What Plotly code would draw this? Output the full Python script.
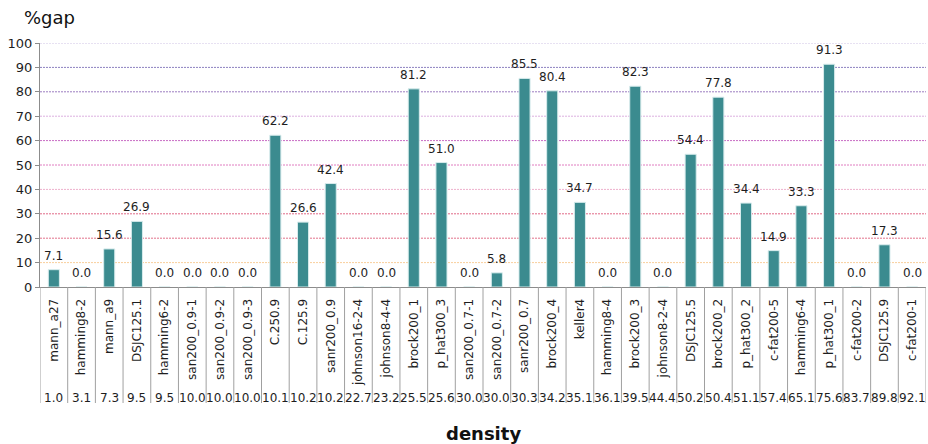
import plotly.graph_objects as go

# Instances, optimality gap (%) and graph density (%)
instances = [
    "mann_a27", "hamming8-2", "mann_a9", "DSJC125.1", "hamming6-2",
    "san200_0.9-1", "san200_0.9-2", "san200_0.9-3", "C.250.9", "C.125.9",
    "sanr200_0.9", "johnson16-2-4", "johnson8-4-4", "brock200_1", "p_hat300_3",
    "san200_0.7-1", "san200_0.7-2", "sanr200_0.7", "brock200_4", "keller4",
    "hamming8-4", "brock200_3", "johnson8-2-4", "DSJC125.5", "brock200_2",
    "p_hat300_2", "c-fat200-5", "hamming6-4", "p_hat300_1", "c-fat200-2",
    "DSJC125.9", "c-fat200-1",
]
gap = [
    7.1, 0.0, 15.6, 26.9, 0.0, 0.0, 0.0, 0.0, 62.2, 26.6,
    42.4, 0.0, 0.0, 81.2, 51.0, 0.0, 5.8, 85.5, 80.4, 34.7,
    0.0, 82.3, 0.0, 54.4, 77.8, 34.4, 14.9, 33.3, 91.3, 0.0,
    17.3, 0.0,
]
density = [
    1.0, 3.1, 7.3, 9.5, 9.5, 10.0, 10.0, 10.0, 10.1, 10.2,
    10.2, 22.7, 23.2, 25.5, 25.6, 30.0, 30.0, 30.3, 34.2, 35.1,
    36.1, 39.5, 44.4, 50.2, 50.4, 51.1, 57.4, 65.1, 75.6, 83.7,
    89.8, 92.1,
]
y_ticks = [0, 10, 20, 30, 40, 50, 60, 70, 80, 90, 100]
grid_colors = {
    10: "#f9cf9c", 20: "#e3738c", 30: "#e06a88", 40: "#eeb0cc",
    50: "#e07cc0", 60: "#c86cc4", 70: "#dcb0e0", 80: "#9c7cc0",
    90: "#8c80c0", 100: "#cfc4e6",
}

FONT = "DejaVu Sans, Liberation Sans, Arial, sans-serif"
TXT = "#1e1e1e"
W, H = 928, 444
ML, MR, MT, MB = 40, 2, 43, 157
plot_h = H - MT - MB

fig = go.Figure()
fig.add_trace(go.Bar(
    x=instances,
    y=gap,
    width=0.4,
    marker=dict(color="#3b8b8f", line=dict(color="#d8eced", width=1)),
    hoverinfo="x+y",
))

shapes = []
# dotted horizontal grid lines, each level with its own tint
for v in y_ticks[1:]:
    shapes.append(dict(type="line", xref="paper", yref="y", x0=0, x1=1, y0=v, y1=v,
                       line=dict(color=grid_colors[v], width=1, dash="2px,1px"),
                       layer="below"))
# table cell separators below the category axis
sep_bottom = -(403 - 287) / plot_h
for i in range(len(instances) + 1):
    shapes.append(dict(type="line", xref="x", yref="paper", x0=i - 0.5, x1=i - 0.5,
                       y0=0, y1=sep_bottom, line=dict(color="#a0a0a0", width=1)))

annotations = []
# value labels above each bar
for name, v in zip(instances, gap):
    annotations.append(dict(x=name, y=v, xref="x", yref="y", text=f"{v:.1f}",
                            showarrow=False, yanchor="bottom", xanchor="center",
                            yshift=5, font=dict(size=12, color=TXT, family=FONT)))
# density row
dens_y = -(398 - 287) / plot_h
for name, d in zip(instances, density):
    annotations.append(dict(x=name, y=dens_y, xref="x", yref="paper", text=f"{d:.1f}",
                            showarrow=False, yanchor="middle", xanchor="center",
                            font=dict(size=12, color=TXT, family=FONT)))
annotations.append(dict(x=(22 - ML) / (W - ML - MR), y=1 + (MT - 18) / plot_h,
                        xref="paper", yref="paper", text="%gap", showarrow=False,
                        xanchor="left", yanchor="middle",
                        font=dict(size=18, color="#111111", family=FONT)))
annotations.append(dict(x=0.5, y=-(433 - 287) / plot_h, xref="paper", yref="paper",
                        text="<b>density</b>", showarrow=False, xanchor="center",
                        yanchor="middle", font=dict(size=18, color="#111111", family=FONT)))

fig.update_layout(
    width=W, height=H,
    margin=dict(l=ML, r=MR, t=MT, b=MB, autoexpand=False),
    plot_bgcolor="white", paper_bgcolor="white",
    showlegend=False,
    font=dict(family=FONT, color=TXT),
    shapes=shapes,
    annotations=annotations,
    xaxis=dict(
        type="category", range=[-0.5, len(instances) - 0.5],
        tickangle=-90, tickfont=dict(size=12, color=TXT, family=FONT),
        showgrid=False, showline=True, linecolor="#8c8c8c", linewidth=1,
        ticks="", ticklabelstandoff=6, automargin=False, fixedrange=True,
    ),
    yaxis=dict(
        range=[0, 100], tickvals=y_ticks, showgrid=False, zeroline=False,
        showline=True, linecolor="#8c8c8c", linewidth=1,
        ticks="outside", ticklen=4, tickcolor="#8c8c8c",
        tickfont=dict(size=13, color=TXT, family=FONT),
        automargin=False, fixedrange=True,
    ),
)

fig.write_html("out.html")
